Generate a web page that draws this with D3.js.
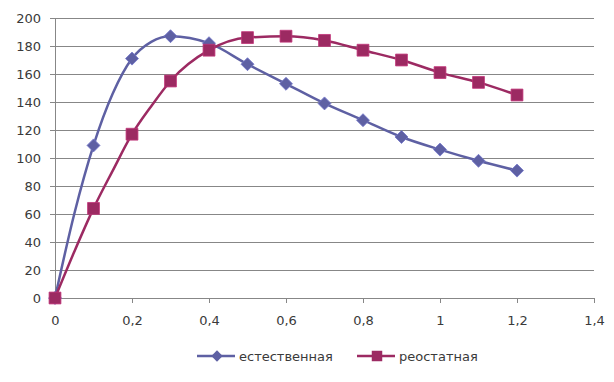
<!DOCTYPE html>
<html><head><meta charset="utf-8">
<script src="https://cdn.jsdelivr.net/npm/d3@7"></script>
<style>body{margin:0;background:#fff}svg{display:block}text{font-family:"DejaVu Sans",sans-serif;fill:#3a3a3a}</style>
</head><body>
<svg id="c" width="614" height="382"></svg>
<script>
const xValues = [0,0.1,0.2,0.3,0.4,0.5,0.6,0.7,0.8,0.9,1.0,1.1,1.2];
const natural = [0,109,171,187,182,167,153,139,127,115,106,98,91];
const rheostat = [0,64,117,155,177,186,187,184,177,170,161,154,145];
// extra unmarked line points (line bends)
const naturalBendX = [0.05,0.15,0.25];
const naturalBendY = [60,146,183];
const rheostatBendX = [0.05,0.15,0.25];
const rheostatBendY = [33,91,137];
const xTicks = [0,0.2,0.4,0.6,0.8,1,1.2,1.4];
const yTicks = [0,20,40,60,80,100,120,140,160,180,200];
const seriesNames = ["естественная","реостатная"];
const colors = ["#5E60A3","#9C2A62"];

const svg = d3.select("#c");
const x = d3.scaleLinear().domain([0,1.4]).range([55,594]);
const y = d3.scaleLinear().domain([0,200]).range([298,18]);
const fmt = d => String(d).replace(".",",");

// grid
svg.append("g").selectAll("line").data(yTicks.filter(d=>d>0)).join("line")
  .attr("x1",x(0)).attr("x2",x(1.4)).attr("y1",d=>y(d)).attr("y2",d=>y(d))
  .attr("stroke","#878787").attr("stroke-width",1).attr("shape-rendering","crispEdges");

const yAxis = d3.axisLeft(y).tickValues(yTicks).tickSize(5).tickPadding(9).tickFormat(d=>d);
const gy = svg.append("g").attr("transform",`translate(${x(0)},0)`).call(yAxis);
const xAxis = d3.axisBottom(x).tickValues(xTicks).tickSize(5).tickPadding(13).tickFormat(fmt);
const gx = svg.append("g").attr("transform",`translate(0,${y(0)})`).call(xAxis);
[gx,gy].forEach(g=>{
  g.select(".domain").attr("stroke","#878787").attr("shape-rendering","crispEdges");
  g.selectAll(".tick line").attr("stroke","#878787").attr("shape-rendering","crispEdges");
  g.selectAll("text").attr("font-size",13).style("font-family","'DejaVu Sans',sans-serif").attr("fill","#3a3a3a");
});

function mergePts(xs,ys,bx,by){
  const pts = xs.map((v,i)=>[v,ys[i]]).concat(bx.map((v,i)=>[v,by[i]]));
  return pts.sort((a,b)=>a[0]-b[0]);
}
const line = d3.line().x(d=>x(d[0])).y(d=>y(d[1])).curve(d3.curveMonotoneX);

const sets = [
  {pts: mergePts(xValues,natural,naturalBendX,naturalBendY), vals: natural, size: 84, rot: 45},
  {pts: mergePts(xValues,rheostat,rheostatBendX,rheostatBendY), vals: rheostat, size: 140, rot: 0}
];
sets.forEach((s,i)=>{
  svg.append("path").attr("d",line(s.pts)).attr("fill","none").attr("stroke",colors[i]).attr("stroke-width",2.5);
});
sets.forEach((s,i)=>{
  svg.append("g").selectAll("path").data(xValues).join("path")
    .attr("transform",(d,j)=>`translate(${x(d)},${y(s.vals[j])}) rotate(${s.rot})`)
    .attr("d",d3.symbol().type(d3.symbolSquare).size(s.size)())
    .attr("fill",colors[i]).attr("stroke",d3.color(colors[i]).brighter(0.6)).attr("stroke-width",0.8);
});

// legend
const legend = [{x0:197, tx:239},{x0:357, tx:399}];
legend.forEach((l,i)=>{
  const g = svg.append("g");
  g.append("line").attr("x1",l.x0).attr("x2",l.x0+38).attr("y1",356).attr("y2",356).attr("stroke",colors[i]).attr("stroke-width",2.5);
  g.append("path").attr("transform",`translate(${l.x0+20},356) rotate(${sets[i].rot})`)
    .attr("d",d3.symbol().type(d3.symbolSquare).size(i===0?64:110)()).attr("fill",colors[i]);
  g.append("text").attr("x",l.tx).attr("y",361).attr("font-size",13).text(seriesNames[i]);
});
</script>
</body></html>
